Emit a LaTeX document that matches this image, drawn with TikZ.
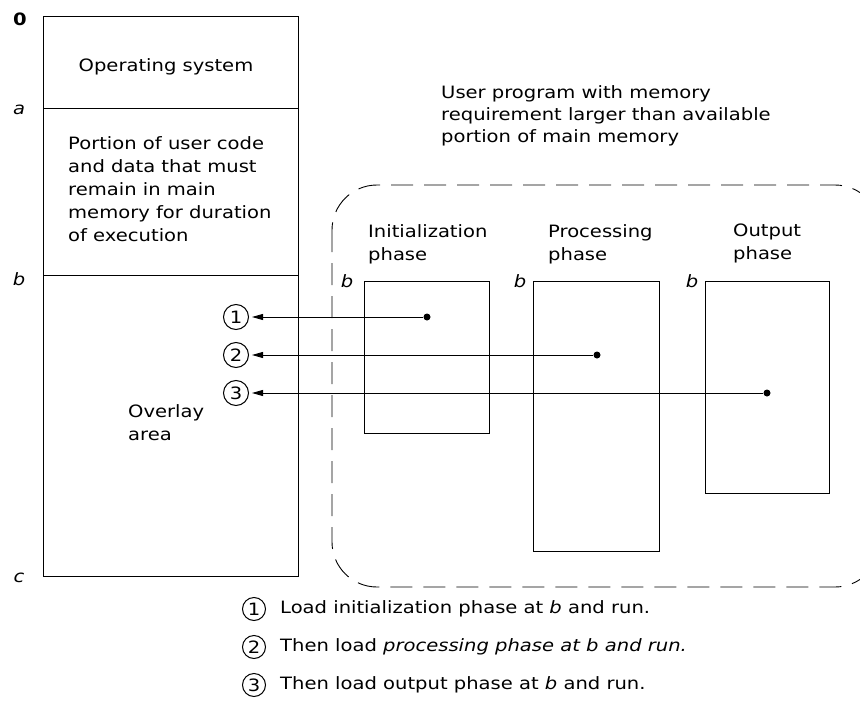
\documentclass[tikz,border=0pt]{standalone}
\usepackage{fontspec}
\setmainfont{DejaVu Sans}[FakeStretch=1.15]
\usetikzlibrary{arrows.meta}
\begin{document}
\begin{tikzpicture}[x=1pt,y=-1pt,
  every node/.style={font=\fontsize{17}{23}\selectfont, inner sep=0pt},
  region/.style={draw, line width=1pt, anchor=north west},
  userbox/.style={line width=0.9pt, dash pattern=on 22pt off 11pt, rounded corners=45pt},
  dotnode/.style={circle, fill, minimum size=7pt, inner sep=0pt},
  numcirc/.style={draw, circle, line width=1pt, minimum size=25pt, inner sep=0pt},
  legcirc/.style={draw, circle, line width=1pt, minimum size=23pt, inner sep=0pt},
  ptr/.style={line width=0.9pt, -{Triangle[length=11pt,width=6pt]}, shorten >=3pt},
  multi/.style={anchor=north west, align=left}
]
\useasboundingbox (0,0) rectangle (860,704);
\begin{scope}
  \clip (0,0) rectangle (860,704);
  \draw[userbox] (332,185) rectangle (880,587);
\end{scope}

% main memory
\node[region, minimum width=255pt, minimum height=92pt] (os) at (43,16) {};
\node[region, minimum width=255pt, minimum height=167pt] (keep) at (43,108) {};
\node[region, minimum width=255pt, minimum height=301pt] (ovl) at (43,275) {};

\node (l0) at (20,19) {\bfseries 0};
\node (la) at (19,110) {\itshape a};
\node (lb) at (19,279) {\itshape b};
\node (lc) at (19,578) {\itshape c};

\node (ost) at (166,67) {Operating system};
\node[multi] (keept) at (68,136) {Portion of user code\\and data that must\\remain in main\\memory for duration\\of execution};
\node[multi] (ovt) at (128,404) {Overlay\\area};

% user program
\node[multi, font=\fontsize{17}{22}\selectfont] (upt) at (441,85) {User program with memory\\requirement larger than available\\portion of main memory};

\node[multi] (initl) at (368,224) {Initialization\\phase};
\node[multi] (procl) at (548,224) {Processing\\phase};
\node[multi] (outl) at (733,224) {Output\\phase};

\node[region, minimum width=125pt, minimum height=152pt] (init) at (364,281) {};
\node[region, minimum width=126pt, minimum height=270pt] (proc) at (533,281) {};
\node[region, minimum width=124pt, minimum height=212pt] (out) at (705,281) {};

\node (bi) at (347,281) {\itshape b};
\node (bp) at (520,281) {\itshape b};
\node (bo) at (692,281) {\itshape b};

% overlay loading
\node[numcirc] (n1) at (236,317) {1};
\node[numcirc] (n2) at (236,355) {2};
\node[numcirc] (n3) at (236,393) {3};
\node[dotnode] (d1) at (427,317) {};
\node[dotnode] (d2) at (597,355) {};
\node[dotnode] (d3) at (767,393) {};
\draw[ptr] (d1) -- (n1);
\draw[ptr] (d2) -- (n2);
\draw[ptr] (d3) -- (n3);

% legend
\node[legcirc] (g1) at (254,609) {1};
\node[legcirc] (g2) at (254,647) {2};
\node[legcirc] (g3) at (254,685) {3};
\node[anchor=west] (t1) at (280,609) {Load initialization phase at \textit{b} and run.};
\node[anchor=west] (t2) at (280,647) {Then load \textit{processing phase at b and run.}};
\node[anchor=west] (t3) at (280,685) {Then load output phase at \textit{b} and run.};
\end{tikzpicture}
\end{document}
